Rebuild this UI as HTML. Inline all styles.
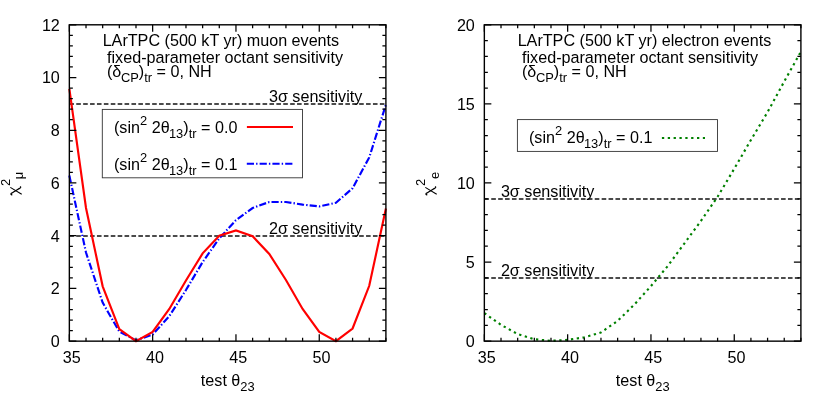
<!DOCTYPE html>
<html><head><meta charset="utf-8"><title>octant sensitivity</title>
<style>
html,body{margin:0;padding:0;background:#fff;}
body{width:830px;height:415px;overflow:hidden;}
svg{display:block;position:absolute;left:0;top:0;filter:blur(0.35px);}
text{font-family:"Liberation Sans",sans-serif;font-size:16.15px;fill:#000;}
</style></head><body>
<svg width="830" height="415" viewBox="0 0 830 415">
<rect x="0" y="0" width="830" height="415" fill="#fff"/>
<g>
<text x="102.65" y="46.1">LArTPC (500 kT yr) muon events</text>
<text x="107.05" y="62.8">fixed-parameter octant sensitivity</text>
<text x="106.95" y="77.3">(δ<tspan dx="-0.4" dy="4.5" font-size="12.9">CP</tspan><tspan dy="-4.5">)</tspan><tspan dy="4.5" font-size="12.9">tr</tspan><tspan dy="-4.5"> = 0, NH</tspan></text>
<text x="362.3" y="101.6" text-anchor="end">3σ sensitivity</text>
<text x="362.3" y="233.6" text-anchor="end">2σ sensitivity</text>
<line x1="69.35" y1="104.09" x2="385.9" y2="104.09" stroke="#111" stroke-width="1.5" stroke-dasharray="4.6 2.3"/>
<line x1="69.35" y1="235.9" x2="385.9" y2="235.9" stroke="#111" stroke-width="1.5" stroke-dasharray="4.6 2.3"/>
<polyline points="69.35,175.59 86.01,252.57 102.67,302.66 119.33,331.66 135.99,340.36 152.65,334.56 169.31,316.11 185.97,290.01 202.63,262.06 219.29,238.34 235.96,220.15 252.62,208.02 269.28,201.96 285.94,201.96 302.6,204.59 319.26,206.44 335.92,202.75 352.58,188.25 369.24,157.4 385.9,104.68" fill="none" stroke="#0000ff" stroke-width="2.15" stroke-linejoin="miter" stroke-dasharray="7.2 2.1 1.4 2.1"/>
<polyline points="69.35,88.86 86.01,208.02 102.67,286.32 119.33,329.02 135.99,341.15 152.65,331.92 169.31,308.99 185.97,280.52 202.63,253.36 219.29,235.7 235.96,230.43 252.62,236.23 269.28,253.89 285.94,279.99 302.6,308.99 319.26,331.92 335.92,341.15 352.58,328.5 369.24,285.79 385.9,208.55" fill="none" stroke="#ff0000" stroke-width="2.15" stroke-linejoin="miter"/>
<path d="M69.35 341.15v-7M69.35 24.8v7M86.01 341.15v-3.5M86.01 24.8v3.5M102.67 341.15v-3.5M102.67 24.8v3.5M119.33 341.15v-3.5M119.33 24.8v3.5M135.99 341.15v-3.5M135.99 24.8v3.5M152.65 341.15v-7M152.65 24.8v7M169.31 341.15v-3.5M169.31 24.8v3.5M185.97 341.15v-3.5M185.97 24.8v3.5M202.63 341.15v-3.5M202.63 24.8v3.5M219.29 341.15v-3.5M219.29 24.8v3.5M235.96 341.15v-7M235.96 24.8v7M252.62 341.15v-3.5M252.62 24.8v3.5M269.28 341.15v-3.5M269.28 24.8v3.5M285.94 341.15v-3.5M285.94 24.8v3.5M302.6 341.15v-3.5M302.6 24.8v3.5M319.26 341.15v-7M319.26 24.8v7M335.92 341.15v-3.5M335.92 24.8v3.5M352.58 341.15v-3.5M352.58 24.8v3.5M369.24 341.15v-3.5M369.24 24.8v3.5M385.9 341.15v-3.5M385.9 24.8v3.5M69.35 341.15h7M385.9 341.15h-7M69.35 330.6h3.5M385.9 330.6h-3.5M69.35 320.06h3.5M385.9 320.06h-3.5M69.35 309.51h3.5M385.9 309.51h-3.5M69.35 298.97h3.5M385.9 298.97h-3.5M69.35 288.42h7M385.9 288.42h-7M69.35 277.88h3.5M385.9 277.88h-3.5M69.35 267.33h3.5M385.9 267.33h-3.5M69.35 256.79h3.5M385.9 256.79h-3.5M69.35 246.25h3.5M385.9 246.25h-3.5M69.35 235.7h7M385.9 235.7h-7M69.35 225.15h3.5M385.9 225.15h-3.5M69.35 214.61h3.5M385.9 214.61h-3.5M69.35 204.06h3.5M385.9 204.06h-3.5M69.35 193.52h3.5M385.9 193.52h-3.5M69.35 182.97h7M385.9 182.97h-7M69.35 172.43h3.5M385.9 172.43h-3.5M69.35 161.88h3.5M385.9 161.88h-3.5M69.35 151.34h3.5M385.9 151.34h-3.5M69.35 140.79h3.5M385.9 140.79h-3.5M69.35 130.25h7M385.9 130.25h-7M69.35 119.7h3.5M385.9 119.7h-3.5M69.35 109.16h3.5M385.9 109.16h-3.5M69.35 98.61h3.5M385.9 98.61h-3.5M69.35 88.07h3.5M385.9 88.07h-3.5M69.35 77.52h7M385.9 77.52h-7M69.35 66.98h3.5M385.9 66.98h-3.5M69.35 56.44h3.5M385.9 56.44h-3.5M69.35 45.89h3.5M385.9 45.89h-3.5M69.35 35.34h3.5M385.9 35.34h-3.5M69.35 24.8h7M385.9 24.8h-7" stroke="#000" stroke-width="1.25" fill="none"/>
<rect x="69.35" y="24.8" width="316.55" height="316.35" fill="none" stroke="#000" stroke-width="1.4"/>
<text x="59.85" y="347.05" text-anchor="end">0</text>
<text x="59.85" y="294.32" text-anchor="end">2</text>
<text x="59.85" y="241.6" text-anchor="end">4</text>
<text x="59.85" y="188.88" text-anchor="end">6</text>
<text x="59.85" y="136.15" text-anchor="end">8</text>
<text x="59.85" y="83.42" text-anchor="end">10</text>
<text x="59.85" y="30.7" text-anchor="end">12</text>
<text x="71.65" y="363.2" text-anchor="middle">35</text>
<text x="154.95" y="363.2" text-anchor="middle">40</text>
<text x="238.26" y="363.2" text-anchor="middle">45</text>
<text x="321.56" y="363.2" text-anchor="middle">50</text>
<rect x="102.3" y="109.4" width="200.2" height="68.4" fill="#fff" stroke="#333" stroke-width="0.9"/>
<text x="114" y="133.3">(sin<tspan dy="-8" font-size="12.9">2</tspan><tspan dy="8"> 2θ</tspan><tspan dx="-0.7" dy="4.9" font-size="12.9">13</tspan><tspan dy="-4.9">)</tspan><tspan dy="4.9" font-size="12.9">tr</tspan><tspan dy="-4.9"> = 0.0</tspan></text>
<text x="114" y="169.9">(sin<tspan dy="-8" font-size="12.9">2</tspan><tspan dy="8"> 2θ</tspan><tspan dx="-0.7" dy="4.9" font-size="12.9">13</tspan><tspan dy="-4.9">)</tspan><tspan dy="4.9" font-size="12.9">tr</tspan><tspan dy="-4.9"> = 0.1</tspan></text>
<line x1="246.9" y1="127" x2="293" y2="127" stroke="#ff0000" stroke-width="2.15"/>
<line x1="246.8" y1="163.7" x2="293" y2="163.7" stroke="#0000ff" stroke-width="2.15" stroke-dasharray="7.2 2.1 1.4 2.1"/>
<text x="200.85" y="385.9">test θ<tspan dy="5" font-size="12.9">23</tspan></text>
<g transform="translate(0,0)" fill="none" stroke="#000" stroke-linecap="butt">
<path d="M10.3 187.4L21.7 194.3" stroke-width="1.1"/>
<path d="M12.3 194.7C11.1 194.9 10.4 194.1 11.4 193.3C12.6 192.4 14 191.7 15.6 190.7C17.2 189.7 18.8 188.9 20.1 188C21 187.3 20.7 186.7 20 186.9" stroke-width="1.3"/>
</g>
<text transform="translate(10.1,186.1) rotate(-90)" style="font-size:12.9px">2</text>
<text transform="translate(23.3,179.3) rotate(-90)" style="font-size:12.9px">μ</text>
</g>
<g>
<text x="517.65" y="46.1">LArTPC (500 kT yr) electron events</text>
<text x="522.05" y="62.8">fixed-parameter octant sensitivity</text>
<text x="521.95" y="77.3">(δ<tspan dx="-0.4" dy="4.5" font-size="12.9">CP</tspan><tspan dy="-4.5">)</tspan><tspan dy="4.5" font-size="12.9">tr</tspan><tspan dy="-4.5"> = 0, NH</tspan></text>
<text x="500.9" y="196.8">3σ sensitivity</text>
<text x="500.9" y="275.8">2σ sensitivity</text>
<line x1="484.35" y1="198.99" x2="800.9" y2="198.99" stroke="#111" stroke-width="1.5" stroke-dasharray="4.6 2.3"/>
<line x1="484.35" y1="278.08" x2="800.9" y2="278.08" stroke="#111" stroke-width="1.5" stroke-dasharray="4.6 2.3"/>
<polyline points="484.35,313.15 501.01,324.86 517.67,334.03 534.33,339.25 550.99,340.83 567.65,339.88 584.31,337.35 600.97,332.45 617.63,320.9 634.29,304.61 650.96,286.11 667.62,266.18 684.28,243.56 700.94,220.94 717.6,196.74 734.26,168.74 750.92,139.95 767.58,112.11 784.24,81.43 800.9,51.69" fill="none" stroke="#008000" stroke-width="2.15" stroke-linejoin="round" stroke-dasharray="2.3 3.55"/>
<path d="M484.35 341.15v-7M484.35 24.8v7M501.01 341.15v-3.5M501.01 24.8v3.5M517.67 341.15v-3.5M517.67 24.8v3.5M534.33 341.15v-3.5M534.33 24.8v3.5M550.99 341.15v-3.5M550.99 24.8v3.5M567.65 341.15v-7M567.65 24.8v7M584.31 341.15v-3.5M584.31 24.8v3.5M600.97 341.15v-3.5M600.97 24.8v3.5M617.63 341.15v-3.5M617.63 24.8v3.5M634.29 341.15v-3.5M634.29 24.8v3.5M650.96 341.15v-7M650.96 24.8v7M667.62 341.15v-3.5M667.62 24.8v3.5M684.28 341.15v-3.5M684.28 24.8v3.5M700.94 341.15v-3.5M700.94 24.8v3.5M717.6 341.15v-3.5M717.6 24.8v3.5M734.26 341.15v-7M734.26 24.8v7M750.92 341.15v-3.5M750.92 24.8v3.5M767.58 341.15v-3.5M767.58 24.8v3.5M784.24 341.15v-3.5M784.24 24.8v3.5M800.9 341.15v-3.5M800.9 24.8v3.5M484.35 341.15h7M800.9 341.15h-7M484.35 325.33h3.5M800.9 325.33h-3.5M484.35 309.51h3.5M800.9 309.51h-3.5M484.35 293.7h3.5M800.9 293.7h-3.5M484.35 277.88h3.5M800.9 277.88h-3.5M484.35 262.06h7M800.9 262.06h-7M484.35 246.24h3.5M800.9 246.24h-3.5M484.35 230.43h3.5M800.9 230.43h-3.5M484.35 214.61h3.5M800.9 214.61h-3.5M484.35 198.79h3.5M800.9 198.79h-3.5M484.35 182.97h7M800.9 182.97h-7M484.35 167.16h3.5M800.9 167.16h-3.5M484.35 151.34h3.5M800.9 151.34h-3.5M484.35 135.52h3.5M800.9 135.52h-3.5M484.35 119.7h3.5M800.9 119.7h-3.5M484.35 103.89h7M800.9 103.89h-7M484.35 88.07h3.5M800.9 88.07h-3.5M484.35 72.25h3.5M800.9 72.25h-3.5M484.35 56.44h3.5M800.9 56.44h-3.5M484.35 40.62h3.5M800.9 40.62h-3.5M484.35 24.8h7M800.9 24.8h-7" stroke="#000" stroke-width="1.25" fill="none"/>
<rect x="484.35" y="24.8" width="316.55" height="316.35" fill="none" stroke="#000" stroke-width="1.4"/>
<text x="474.85" y="347.05" text-anchor="end">0</text>
<text x="474.85" y="267.96" text-anchor="end">5</text>
<text x="474.85" y="188.88" text-anchor="end">10</text>
<text x="474.85" y="109.79" text-anchor="end">15</text>
<text x="474.85" y="30.7" text-anchor="end">20</text>
<text x="486.65" y="363.2" text-anchor="middle">35</text>
<text x="569.95" y="363.2" text-anchor="middle">40</text>
<text x="653.26" y="363.2" text-anchor="middle">45</text>
<text x="736.56" y="363.2" text-anchor="middle">50</text>
<rect x="517.4" y="119.6" width="200.1" height="31.8" fill="#fff" stroke="#333" stroke-width="0.9"/>
<text x="529" y="143.3">(sin<tspan dy="-8" font-size="12.9">2</tspan><tspan dy="8"> 2θ</tspan><tspan dx="-0.7" dy="4.9" font-size="12.9">13</tspan><tspan dy="-4.9">)</tspan><tspan dy="4.9" font-size="12.9">tr</tspan><tspan dy="-4.9"> = 0.1</tspan></text>
<line x1="661.9" y1="138" x2="705" y2="138" stroke="#008000" stroke-width="2.15" stroke-dasharray="2.3 3.55"/>
<text x="615.85" y="385.9">test θ<tspan dy="5" font-size="12.9">23</tspan></text>
<g transform="translate(415,0)" fill="none" stroke="#000" stroke-linecap="butt">
<path d="M10.3 187.4L21.7 194.3" stroke-width="1.1"/>
<path d="M12.3 194.7C11.1 194.9 10.4 194.1 11.4 193.3C12.6 192.4 14 191.7 15.6 190.7C17.2 189.7 18.8 188.9 20.1 188C21 187.3 20.7 186.7 20 186.9" stroke-width="1.3"/>
</g>
<text transform="translate(425.1,186.1) rotate(-90)" style="font-size:12.9px">2</text>
<text transform="translate(438.7,179) rotate(-90)" style="font-size:12.9px">e</text>
</g>
</svg></body></html>
